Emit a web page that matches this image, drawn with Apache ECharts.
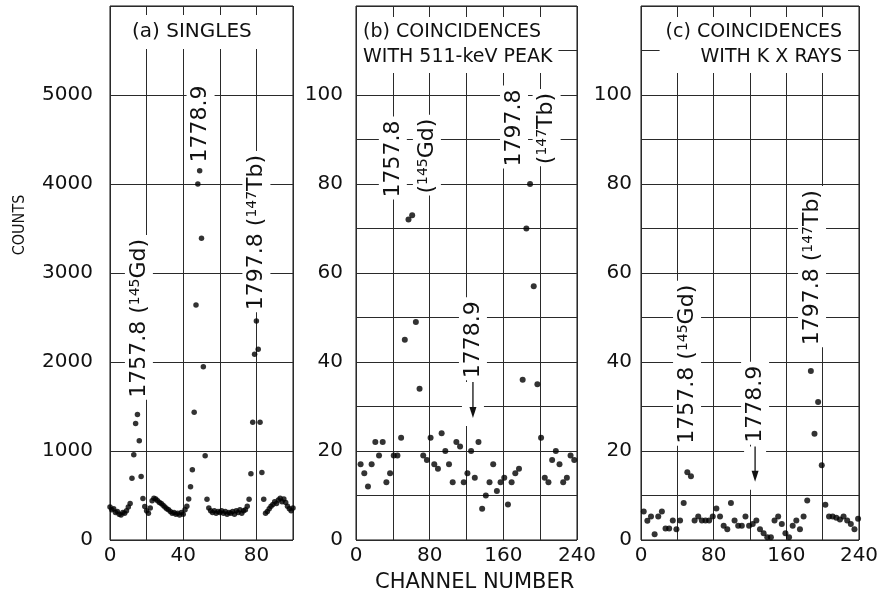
<!DOCTYPE html>
<html><head><meta charset="utf-8">
<script src="https://cdn.jsdelivr.net/npm/echarts@6/dist/echarts.min.js"></script>
<style>html,body{margin:0;padding:0;background:#fff}#c{width:882px;height:602px}</style>
</head><body><div id="c"></div>
<script>
const FONT = 'DejaVu Sans';
const INK = '#111';

// ---- Panel (a): singles ----
const singlesChannels = [0,1,2,3,4,5,6,7,8,9,10,11,12,13,14,15,16,17,18,19,20,21,22,23,24,25,26,27,28,29,30,31,32,33,34,35,36,37,38,39,40,41,42,43,44,45,46,47,48,49,50,51,52,53,54,55,56,57,58,59,60,61,62,63,64,65,66,67,68,69,70,71,72,73,74,75,76,77,78,79,80,81,82,83,84,85,86,87,88,89,90,91,92,93,94,95,96,97,98,99,100];
const singlesCounts = [370,340,350,310,320,290,280,310,300,330,370,410,695,958,1308,1410,1116,714,466,376,330,300,360,440,470,460,440,420,410,390,370,350,340,320,300,310,290,300,280,310,290,340,380,462,598,790,1436,2640,4000,4150,3390,1947,947,459,360,330,310,330,300,320,310,330,300,320,290,310,300,320,290,330,310,340,300,330,340,380,459,744,1323,2086,2462,2143,1323,759,459,300,320,350,380,400,430,410,450,470,430,460,420,380,350,330,360];

// ---- Panel (b): coincidences with 511-keV peak ----
const peak511Channels = [5,9,13,17,21,25,29,33,37,41,45,49,53,57,61,65,69,73,77,81,85,89,93,97,101,105,109,113,117,121,125,129,133,137,141,145,149,153,157,161,165,169,173,177,181,185,189,193,197,201,205,209,213,217,221,225,229,233,237];
const peak511Counts = [17,15,12,17,22,19,22,13,15,19,19,23,45,72,73,49,34,19,18,23,17,16,24,20,17,13,22,21,13,15,20,14,22,7,10,13,17,11,13,14,8,13,15,16,36,70,80,57,35,23,14,13,18,20,17,13,14,19,18];

// ---- Panel (c): coincidences with K x rays ----
const kxChannels = [3,7,11,15,19,23,27,31,35,39,43,47,51,55,59,63,67,71,75,79,83,87,91,95,99,103,107,111,115,119,123,127,131,135,139,143,147,151,155,159,163,167,171,175,179,183,187,191,195,199,203,207,211,215,219,223,227,231,235,239];
const kxCounts = [6.4,4.3,5.3,1.3,5.3,6.4,2.6,2.6,4.4,2.4,4.4,8.3,15.2,14.3,4.4,5.3,4.4,4.4,4.4,5.3,7.1,5.3,3.2,2.4,8.3,4.4,3.2,3.2,5.3,3.2,3.6,4.4,2.4,1.5,0.6,0.6,4.4,5.3,3.6,1.5,0.6,3.2,4.4,2.4,5.3,8.9,38,23.9,31,16.8,7.9,5.3,5.3,5.0,4.6,5.3,4.4,3.6,2.4,4.8];

// ---- tick labels ----
const singlesXLabels = [0,40,80];
const coincXLabels = [0,80,160,240];
const singlesYLabels = [0,1000,2000,3000,4000,5000];
const coincYLabels = [0,20,40,60,80,100];

// ---- texts ----
const panelTitles = ['(a) SINGLES', '(b) COINCIDENCES\nWITH 511-keV PEAK', '(c) COINCIDENCES\nWITH K X RAYS'];
const xAxisTitle = 'CHANNEL NUMBER';
const yAxisTitle = 'COUNTS';

// peak annotations (anchor = start of rotated text, in data units)
const annotations = [
  {grid:0, x:15.8, y:1575, text:'{n|1757.8 (}{s|145}{n|Gd)}'},
  {grid:0, x:49.5, y:4220, text:'{n|1778.9}'},
  {grid:0, x:80,   y:2560, text:'{n|1797.8 (}{s|147}{n|Tb)}'},
  {grid:1, x:40,   y:76.5, text:'{n|1757.8}'},
  {grid:1, x:77,   y:77.4, text:'{n|(}{s|145}{n|Gd)}'},
  {grid:1, x:171.6,y:83.5, text:'{n|1797.8}'},
  {grid:1, x:207,  y:84,   text:'{n|(}{s|147}{n|Tb)}'},
  {grid:1, x:127,  y:35.9, text:'{n|1778.9}'},
  {grid:2, x:50.7, y:21.2, text:'{n|1757.8 (}{s|145}{n|Gd)}'},
  {grid:2, x:125.6,y:21.4, text:'{n|1778.9}'},
  {grid:2, x:188.3,y:43.3, text:'{n|1797.8 (}{s|147}{n|Tb)}'}
];
const arrows = [
  {grid:1, x:127,   from:35.5, to:27.4},
  {grid:2, x:125.6, from:21.0, to:13.1}
];

function zip(a, b){ return a.map((v, i) => [v, b[i]]); }

const chart = echarts.init(document.getElementById('c'), null, {renderer:'canvas'});

const gridBase = {top:6, height:534, show:true, borderColor:INK, borderWidth:1, backgroundColor:'transparent'};
const splitStyle = {show:true, lineStyle:{color:'#2a2a2a', width:1}};
const lblStyle = {color:INK, fontFamily:FONT, fontSize:20};

function xAxisFor(gi, max, interval, labels){
  return {type:'value', gridIndex:gi, min:0, max:max, interval:interval,
    axisLine:{show:false}, axisTick:{show:false}, splitLine:splitStyle,
    axisLabel:Object.assign({margin:6, showMaxLabel:true, showMinLabel:true,
      formatter: v => labels.includes(v) ? String(v) : ''}, lblStyle)};
}
function yAxisFor(gi, max, interval, labels, margin){
  return {type:'value', gridIndex:gi, min:0, max:max, interval:interval,
    axisLine:{show:false}, axisTick:{show:false}, splitLine:splitStyle,
    axisLabel:Object.assign({margin:margin, showMaxLabel:true,
      formatter: v => labels.includes(v) ? String(v) : ''}, lblStyle)};
}
const dot = {symbol:'circle', symbolSize:6, itemStyle:{color:'#000'}, z:2, silent:true};

const titleText = {color:INK, fontFamily:FONT, fontWeight:'normal'};

const option = {
  animation:false,
  backgroundColor:'#fff',
  grid:[
    Object.assign({left:110, width:183}, gridBase),
    Object.assign({left:356, width:221}, gridBase),
    Object.assign({left:641, width:218}, gridBase)
  ],
  xAxis:[
    xAxisFor(0, 100, 20, singlesXLabels),
    xAxisFor(1, 240, 40, coincXLabels),
    xAxisFor(2, 240, 40, coincXLabels)
  ],
  yAxis:[
    yAxisFor(0, 6000, 1000, singlesYLabels, 17),
    yAxisFor(1, 120, 10, coincYLabels, 13),
    yAxisFor(2, 120, 10, coincYLabels, 9)
  ],
  title:[
    {text:panelTitles[0], left:118, top:15, padding:[6,14], backgroundColor:'#fff',
     textStyle:Object.assign({fontSize:20, lineHeight:22}, titleText)},
    {text:panelTitles[1], left:357, top:17, padding:[3,6], backgroundColor:'#fff',
     textStyle:Object.assign({fontSize:19, lineHeight:25}, titleText)},
    {text:xAxisTitle, left:375, top:572, padding:0,
     textStyle:Object.assign({fontSize:21}, titleText)}
  ],
  series:[
    Object.assign({type:'scatter', xAxisIndex:0, yAxisIndex:0, data:zip(singlesChannels, singlesCounts)}, dot, {symbolSize:5.5}),
    Object.assign({type:'scatter', xAxisIndex:1, yAxisIndex:1, data:zip(peak511Channels, peak511Counts)}, dot),
    Object.assign({type:'scatter', xAxisIndex:2, yAxisIndex:2, data:zip(kxChannels, kxCounts)}, dot)
  ]
};
chart.setOption(option);

// ---- annotations placed through the axes' own scales ----
const RICH = {
  n:{fontSize:22, fontFamily:FONT, lineHeight:22, verticalAlign:'bottom', fill:INK, padding:[8,0,0,0]},
  s:{fontSize:14, fontFamily:FONT, lineHeight:14, verticalAlign:'top', fill:INK}
};
function pix(gi, x, y){ return chart.convertToPixel({gridIndex:gi}, [x, y]); }
const PAD = 3;
const g = [];
arrows.forEach(a => {
  const p1 = pix(a.grid, a.x, a.from), p2 = pix(a.grid, a.x, a.to);
  g.push({type:'rect', z:1, silent:true, shape:{x:p1[0]-11, y:p1[1], width:22, height:p2[1]-p1[1]+8}, style:{fill:'#fff'}});
  g.push({type:'line', z:1, silent:true, shape:{x1:p1[0], y1:p1[1], x2:p2[0], y2:p2[1]-8}, style:{stroke:INK, lineWidth:1.3}});
  g.push({type:'polygon', z:1, silent:true, shape:{points:[[p2[0]-3.5,p2[1]-11],[p2[0]+3.5,p2[1]-11],[p2[0],p2[1]]]}, style:{fill:INK}});
});
annotations.forEach(a => {
  const p = pix(a.grid, a.x, a.y);
  g.push({type:'text', z:1, silent:true, x:p[0] + 11 + PAD, y:p[1], rotation:Math.PI/2,
    style:{text:a.text, rich:RICH, fill:INK, fontSize:22, fontFamily:FONT, align:'left', verticalAlign:'bottom',
      backgroundColor:'#fff', padding:[PAD,4,PAD,2]}});
});
// panel (c) title, right-aligned lines, anchored to the grid's right edge
const cRight = pix(2, 240, 120);
g.push({type:'text', z:5, silent:true, x:cRight[0] - 11, y:17,
  style:{text:panelTitles[2], fill:INK, fontSize:19, fontFamily:FONT, lineHeight:25, align:'right', verticalAlign:'top',
    backgroundColor:'#fff', padding:[3,6]}});
g.push({type:'text', z:1, silent:true, x:20, y:225, rotation:Math.PI/2,
  style:{text:yAxisTitle, fill:INK, fontSize:16, fontFamily:"'DejaVu Sans Condensed','DejaVu Sans'", align:'center', verticalAlign:'middle'}});
chart.setOption({graphic:g});
</script>
</body></html>
